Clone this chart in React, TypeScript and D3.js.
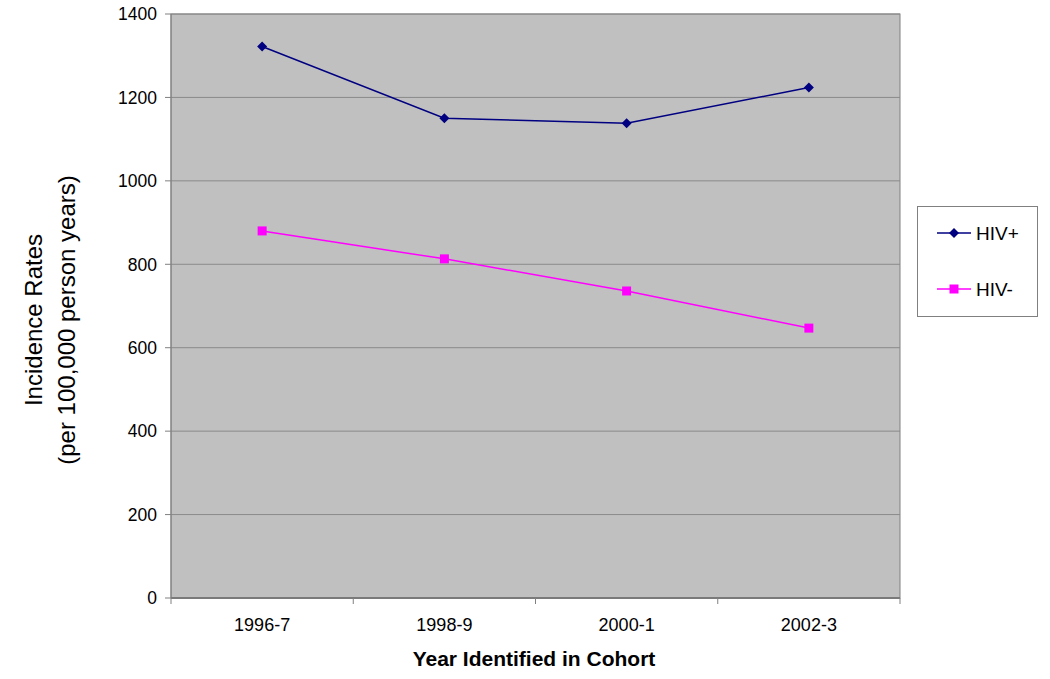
import React from "react";
import * as d3 from "d3";

const categories = ["1996-7", "1998-9", "2000-1", "2002-3"];
const hivPos = [1322, 1150, 1138, 1224];
const hivNeg = [880, 813, 736, 647];
const yTicks = [0, 200, 400, 600, 800, 1000, 1200, 1400];
const seriesNames = ["HIV+", "HIV-"];

const W = 1050, H = 679;
const L = 171, R = 900, T = 14, B = 598;
const FONT = "'Liberation Sans', Arial, sans-serif";

export default function App() {
  const x = d3.scaleBand().domain(categories).range([L, R]);
  const y = d3.scaleLinear().domain([0, 1400]).range([B, T]);
  const cx = (c: string) => (x(c) as number) + x.bandwidth() / 2;
  const line = d3.line<number>().x((_, i) => cx(categories[i])).y((v) => y(v));
  const bounds = categories.map((c) => x(c) as number).concat([R]);
  const diamond = (px: number, py: number, r: number) =>
    `M${px},${py - r}L${px + r},${py}L${px},${py + r}L${px - r},${py}Z`;

  return (
    <svg width={W} height={H} style={{ position: "absolute", left: 0, top: 0 }} fontFamily={FONT}>
      <rect x={0} y={0} width={W} height={H} fill="#fff" />
      <rect x={L} y={T} width={R - L} height={B - T} fill="#c0c0c0" stroke="#808080" strokeWidth={1} />
      {yTicks.slice(1).map((t) => (
        <line key={t} x1={L} x2={R} y1={y(t)} y2={y(t)} stroke="#8a8a8a" strokeWidth={1} />
      ))}
      <line x1={L} x2={R} y1={B} y2={B} stroke="#7a7a7a" strokeWidth={2} />
      <line x1={L} x2={L} y1={T} y2={B} stroke="#808080" strokeWidth={1} />
      {yTicks.map((t) => (
        <g key={t}>
          <line x1={L - 6} x2={L} y1={y(t)} y2={y(t)} stroke="#808080" />
          <text x={L - 14} y={y(t)} dy="0.36em" textAnchor="end" fontSize={17.5} fill="#000">{t}</text>
        </g>
      ))}
      {bounds.map((b, i) => (
        <line key={i} x1={b} x2={b} y1={B} y2={B + 6} stroke="#808080" />
      ))}
      {categories.map((c) => (
        <text key={c} x={cx(c)} y={631} textAnchor="middle" fontSize={18} fill="#000">{c}</text>
      ))}
      <text x={534} y={666} textAnchor="middle" fontSize={21} fontWeight="bold" fill="#000">Year Identified in Cohort</text>
      <g transform={`translate(42,320) rotate(-90)`}>
        <text x={0} y={0} textAnchor="middle" fontSize={24} fill="#000">Incidence Rates</text>
        <text x={0} y={33} textAnchor="middle" fontSize={24} fill="#000">(per 100,000 person years)</text>
      </g>
      <path d={line(hivPos) || ""} fill="none" stroke="#000080" strokeWidth={1.5} />
      <path d={line(hivNeg) || ""} fill="none" stroke="#ff00ff" strokeWidth={1.5} />
      {hivPos.map((v, i) => (
        <path key={i} d={diamond(cx(categories[i]), y(v), 5)} fill="#000080" />
      ))}
      {hivNeg.map((v, i) => (
        <rect key={i} x={cx(categories[i]) - 4.5} y={y(v) - 4.5} width={9} height={9} fill="#ff00ff" />
      ))}
      <rect x={917.5} y={206.5} width={120} height={110} fill="#fff" stroke="#808080" />
      <line x1={937} x2={971} y1={233} y2={233} stroke="#000080" strokeWidth={1.5} />
      <path d={diamond(954, 233, 5)} fill="#000080" />
      <text x={976} y={233} dy="0.36em" fontSize={19} fill="#000">{seriesNames[0]}</text>
      <line x1={937} x2={971} y1={289} y2={289} stroke="#ff00ff" strokeWidth={1.5} />
      <rect x={949.5} y={284.5} width={9} height={9} fill="#ff00ff" />
      <text x={976} y={289} dy="0.36em" fontSize={19} fill="#000">{seriesNames[1]}</text>
    </svg>
  );
}
